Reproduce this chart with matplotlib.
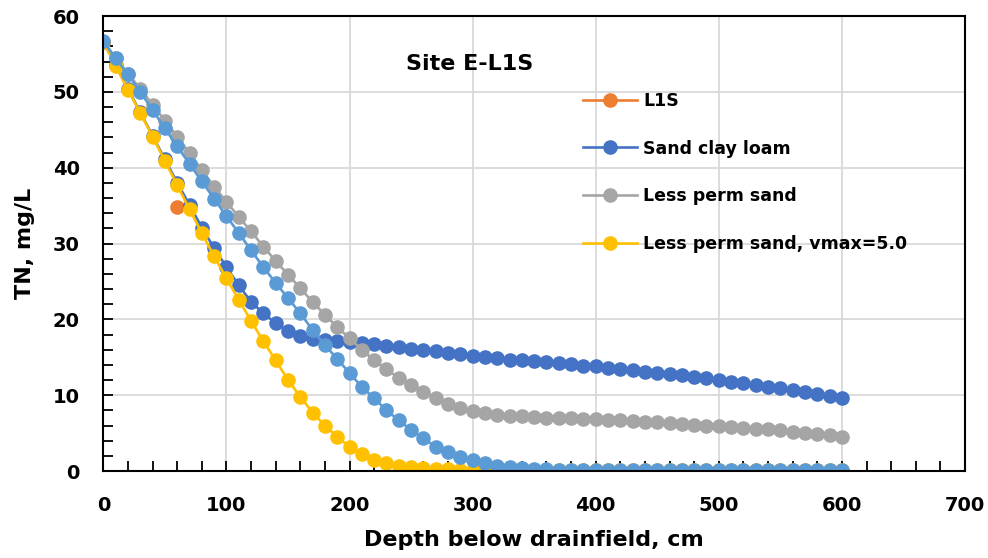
import matplotlib.pyplot as plt
from matplotlib.ticker import MultipleLocator

# Depth below drainfield (cm)
depth = [0, 10, 20, 30, 40, 50, 60, 70, 80, 90,
         100, 110, 120, 130, 140, 150, 160, 170, 180, 190,
         200, 210, 220, 230, 240, 250, 260, 270, 280, 290,
         300, 310, 320, 330, 340, 350, 360, 370, 380, 390,
         400, 410, 420, 430, 440, 450, 460, 470, 480, 490,
         500, 510, 520, 530, 540, 550, 560, 570, 580, 590, 600]

# Observed L1S
l1s_depth = [60]
l1s_tn = [34.8]

sand_clay_loam = [56.6, 53.5, 50.4, 47.3, 44.2, 41.1, 38.0, 35.1, 32.1, 29.4,
                  26.9, 24.5, 22.3, 20.8, 19.5, 18.4, 17.8, 17.4, 17.3, 17.2,
                  17.05, 16.9, 16.7, 16.5, 16.3, 16.1, 16.0, 15.8, 15.6, 15.4,
                  15.2, 15.0, 14.9, 14.7, 14.6, 14.5, 14.4, 14.2, 14.1, 13.9,
                  13.8, 13.6, 13.5, 13.3, 13.1, 12.9, 12.8, 12.6, 12.4, 12.2,
                  12.0, 11.8, 11.6, 11.3, 11.1, 10.9, 10.7, 10.4, 10.2, 9.9, 9.6]

less_perm_sand = [56.6, 54.5, 52.4, 50.4, 48.3, 46.2, 44.1, 41.9, 39.7, 37.5,
                  35.5, 33.5, 31.6, 29.6, 27.7, 25.9, 24.1, 22.3, 20.6, 19.0,
                  17.5, 16.0, 14.6, 13.4, 12.3, 11.3, 10.4, 9.6, 8.9, 8.3,
                  7.9, 7.6, 7.4, 7.3, 7.2, 7.1, 7.05, 7.0, 6.95, 6.9,
                  6.85, 6.75, 6.7, 6.6, 6.5, 6.4, 6.3, 6.2, 6.1, 6.0,
                  5.9, 5.8, 5.7, 5.6, 5.5, 5.35, 5.2, 5.05, 4.9, 4.7, 4.5]

less_perm_vmax5 = [56.6, 53.4, 50.3, 47.2, 44.1, 40.9, 37.7, 34.5, 31.4, 28.3,
                   25.4, 22.6, 19.8, 17.1, 14.6, 12.0, 9.8, 7.7, 6.0, 4.5,
                   3.2, 2.2, 1.5, 1.0, 0.7, 0.5, 0.35, 0.25, 0.2, 0.15,
                   0.12, 0.1, 0.1, 0.1, 0.1, 0.1, 0.1, 0.1, 0.1, 0.1,
                   0.1, 0.1, 0.1, 0.1, 0.1, 0.1, 0.1, 0.1, 0.1, 0.1,
                   0.1, 0.1, 0.1, 0.1, 0.1, 0.1, 0.1, 0.1, 0.1, 0.1, 0.1]

# unlabeled light blue run
extra_run = [56.7, 54.4, 52.3, 50.0, 47.6, 45.2, 42.8, 40.5, 38.2, 35.9,
             33.6, 31.4, 29.1, 26.9, 24.8, 22.8, 20.8, 18.6, 16.6, 14.8,
             12.9, 11.1, 9.6, 8.0, 6.7, 5.4, 4.3, 3.2, 2.5, 1.9,
             1.4, 1.0, 0.7, 0.5, 0.35, 0.25, 0.2, 0.15, 0.1, 0.1,
             0.1, 0.1, 0.1, 0.1, 0.1, 0.1, 0.1, 0.1, 0.1, 0.1,
             0.1, 0.1, 0.1, 0.1, 0.1, 0.1, 0.1, 0.1, 0.1, 0.1, 0.1]

plt.rcParams['font.family'] = ['DejaVu Sans']
plt.rcParams['font.weight'] = 'bold'

fig = plt.figure(figsize=(9.88, 5.58), dpi=100)
ax = fig.add_axes([0.1046, 0.1559, 0.8721, 0.8154])

ms = 9.5
lw = 1.9
ax.plot(l1s_depth, l1s_tn, color='#ED7D31', marker='o', ms=ms, lw=lw, label='L1S')
ax.plot(depth, sand_clay_loam, color='#4472C4', marker='o', ms=ms, lw=lw, label='Sand clay loam')
ax.plot(depth, less_perm_sand, color='#A5A5A5', marker='o', ms=ms, lw=lw, label='Less perm sand')
ax.plot(depth, less_perm_vmax5, color='#FFC000', marker='o', ms=ms, lw=lw, label='Less perm sand, vmax=5.0')
ax.plot(depth, extra_run, color='#5B9BD5', marker='o', ms=ms, lw=lw, label='_nolegend_')

ax.set_xlim(0, 700)
ax.set_ylim(0, 60)
ax.xaxis.set_major_locator(MultipleLocator(100))
ax.xaxis.set_minor_locator(MultipleLocator(20))
ax.yaxis.set_major_locator(MultipleLocator(10))
ax.yaxis.set_minor_locator(MultipleLocator(2))
ax.grid(True, which='major', color='#D9D9D9', lw=1.3)
ax.set_axisbelow(True)
for s in ax.spines.values():
    s.set_linewidth(1.5)
ax.tick_params(which='both', direction='in', length=7, width=1.3, labelsize=14)
ax.tick_params(axis='x', pad=18)
ax.tick_params(axis='y', pad=17)
for lab in ax.get_xticklabels() + ax.get_yticklabels():
    lab.set_fontweight('bold')

ax.set_xlabel('Depth below drainfield, cm', fontsize=16, fontweight='bold', labelpad=11)
ax.set_ylabel('TN, mg/L', fontsize=16, fontweight='bold', labelpad=13)
ax.text(0.425, 0.895, 'Site E-L1S', transform=ax.transAxes, ha='center', va='center',
        fontsize=16, fontweight='bold')

ax.legend(loc='upper left', bbox_to_anchor=(0.539, 0.868), frameon=False,
          prop={'size': 12.5, 'weight': 'bold'}, labelspacing=1.72,
          handlelength=3.1, handletextpad=0.35)

fig.savefig('out.png', dpi=100)
